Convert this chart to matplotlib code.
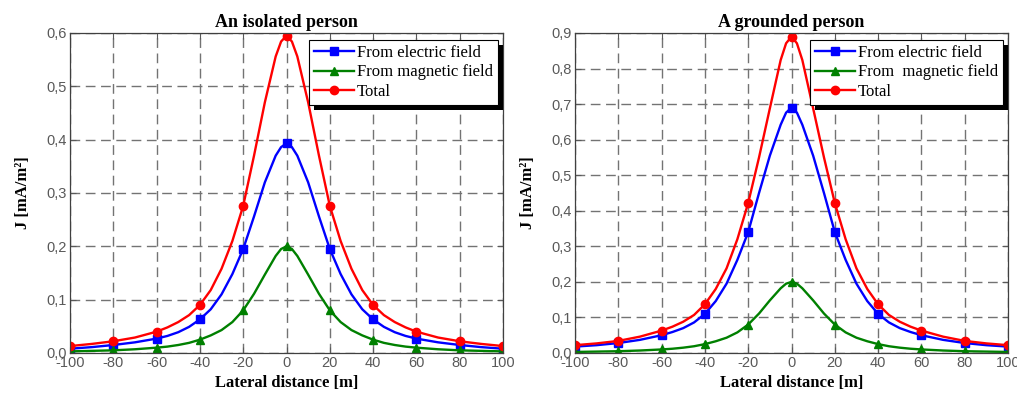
import numpy as np
import matplotlib
matplotlib.use("Agg")
import matplotlib.pyplot as plt
from matplotlib.patches import Rectangle
from matplotlib.ticker import FuncFormatter

plt.rcParams["axes.unicode_minus"] = False

# lateral distance [m]; the markers sit on the multiples of 20
x = [-100, -90, -80, -70, -60, -55, -50, -45, -40, -35, -30, -25, -20, -15, -10, -5, -2.5, 0,
     2.5, 5, 10, 15, 20, 25, 30, 35, 40, 45, 50, 55, 60, 70, 80, 90, 100]

# isolated person, J [mA/m2]
iso_electric = [0.008, 0.011, 0.015, 0.020, 0.027, 0.032, 0.039, 0.049, 0.063, 0.082, 0.110, 0.148,
                0.195, 0.256, 0.320, 0.370, 0.386, 0.393,
                0.386, 0.370, 0.320, 0.256, 0.195, 0.148, 0.110, 0.082, 0.063, 0.049, 0.039, 0.032,
                0.027, 0.020, 0.015, 0.011, 0.008]
iso_magnetic = [0.003, 0.004, 0.005, 0.007, 0.010, 0.012, 0.015, 0.019, 0.025, 0.033, 0.043, 0.058,
                0.080, 0.111, 0.147, 0.182, 0.195, 0.200,
                0.195, 0.182, 0.147, 0.111, 0.080, 0.058, 0.043, 0.033, 0.025, 0.019, 0.015, 0.012,
                0.010, 0.007, 0.005, 0.004, 0.003]
iso_total = [0.013, 0.017, 0.022, 0.029, 0.040, 0.048, 0.058, 0.071, 0.090, 0.118, 0.158, 0.210,
             0.276, 0.370, 0.470, 0.556, 0.584, 0.595,
             0.584, 0.556, 0.470, 0.370, 0.276, 0.210, 0.158, 0.118, 0.090, 0.071, 0.058, 0.048,
             0.040, 0.029, 0.022, 0.017, 0.013]

# grounded person, J [mA/m2]
gnd_electric = [0.018, 0.022, 0.028, 0.037, 0.050, 0.059, 0.070, 0.086, 0.110, 0.146, 0.195, 0.262,
                0.340, 0.450, 0.555, 0.642, 0.676, 0.690,
                0.676, 0.642, 0.555, 0.450, 0.340, 0.262, 0.195, 0.146, 0.110, 0.086, 0.070, 0.059,
                0.050, 0.037, 0.028, 0.022, 0.018]
gnd_magnetic = [0.003, 0.004, 0.005, 0.007, 0.010, 0.012, 0.015, 0.019, 0.025, 0.033, 0.043, 0.058,
                0.080, 0.111, 0.148, 0.182, 0.195, 0.200,
                0.195, 0.182, 0.148, 0.111, 0.080, 0.058, 0.043, 0.033, 0.025, 0.019, 0.015, 0.012,
                0.010, 0.007, 0.005, 0.004, 0.003]
gnd_total = [0.022, 0.027, 0.034, 0.046, 0.063, 0.074, 0.088, 0.107, 0.137, 0.180, 0.238, 0.320,
             0.422, 0.550, 0.688, 0.824, 0.871, 0.890,
             0.871, 0.824, 0.688, 0.550, 0.422, 0.320, 0.238, 0.180, 0.137, 0.107, 0.088, 0.074,
             0.063, 0.046, 0.034, 0.027, 0.022]

xticks = [-100, -80, -60, -40, -20, 0, 20, 40, 60, 80, 100]

panels = [
    ("An isolated person", iso_electric, iso_magnetic, iso_total, 0.6,
     ["From electric field", "From magnetic field", "Total"]),
    ("A grounded person", gnd_electric, gnd_magnetic, gnd_total, 0.9,
     ["From electric field", "From  magnetic field", "Total"]),
]

serif = "Liberation Serif"
sans = "Liberation Sans"

fig = plt.figure(figsize=(10.17, 3.94), dpi=100)
lefts = [70 / 1017, 575 / 1017]
w, b, h = 433 / 1017, 1 - 353 / 394, 320 / 394

xarr = np.array(x)
marks = list(np.where(xarr % 20 == 0)[0])

legends = []
for left, (title, el, mg, tot, ymax, labels) in zip(lefts, panels):
    ax = fig.add_axes([left, b, w, h])
    ax.plot(x, el, color=(0, 0, 1), lw=1.7, marker="s", ms=5.5, markevery=marks, label=labels[0])
    ax.plot(x, mg, color=(0, 0.5, 0), lw=1.7, marker="^", ms=6, markevery=marks, label=labels[1])
    ax.plot(x, tot, color=(1, 0, 0), lw=1.7, marker="o", ms=6, markevery=marks, label=labels[2])
    ax.set_xlim(-100, 100)
    ax.set_ylim(0, ymax)
    ax.set_xticks(xticks)
    ax.set_yticks(np.arange(0, ymax + 0.001, 0.1))
    ax.yaxis.set_major_formatter(FuncFormatter(lambda v, p: f"{v:.1f}".replace(".", ",")))
    ax.grid(True, color=(0.45, 0.45, 0.45), lw=1, linestyle=(0, (7, 4)))
    ax.tick_params(direction="in", length=4, top=True, right=True, colors=(0.35, 0.35, 0.35),
                   labelsize=10.5, pad=2)
    for lab in ax.get_xticklabels() + ax.get_yticklabels():
        lab.set_fontfamily(sans)
    for s in ax.spines.values():
        s.set_color((0.25, 0.25, 0.25))
        s.set_linewidth(0.9)
    ax.set_title(title, fontfamily=serif, fontweight="bold", fontsize=13, pad=4)
    ax.set_xlabel("Lateral distance [m]", fontfamily=serif, fontweight="bold", fontsize=12)
    ax.set_ylabel("J [mA/m²]", fontfamily=serif, fontweight="bold", fontsize=12)
    ax.xaxis.set_label_coords(0.5, -0.07)
    ax.yaxis.set_label_coords(-0.09, 0.5)
    leg = ax.legend(loc="upper right", bbox_to_anchor=(0.988, 0.978), borderaxespad=0,
                    prop={"family": serif, "size": 12}, fancybox=False, framealpha=1,
                    edgecolor="black", handlelength=2.4, handletextpad=0.15,
                    borderpad=0.3, labelspacing=0.2)
    leg.get_frame().set_linewidth(0.8)
    leg.set_zorder(5)
    legends.append((ax, leg))

fig.canvas.draw()
for ax, leg in legends:
    bb = leg.get_window_extent().transformed(ax.transAxes.inverted())
    dx = 5 / (w * 1017)
    dy = 5 / (h * 394)
    ax.add_patch(Rectangle((bb.x0 + dx, bb.y0 - dy), bb.width, bb.height, transform=ax.transAxes,
                           facecolor="black", edgecolor="none", zorder=4.5, clip_on=False))

fig.savefig("out.png", dpi=100)
